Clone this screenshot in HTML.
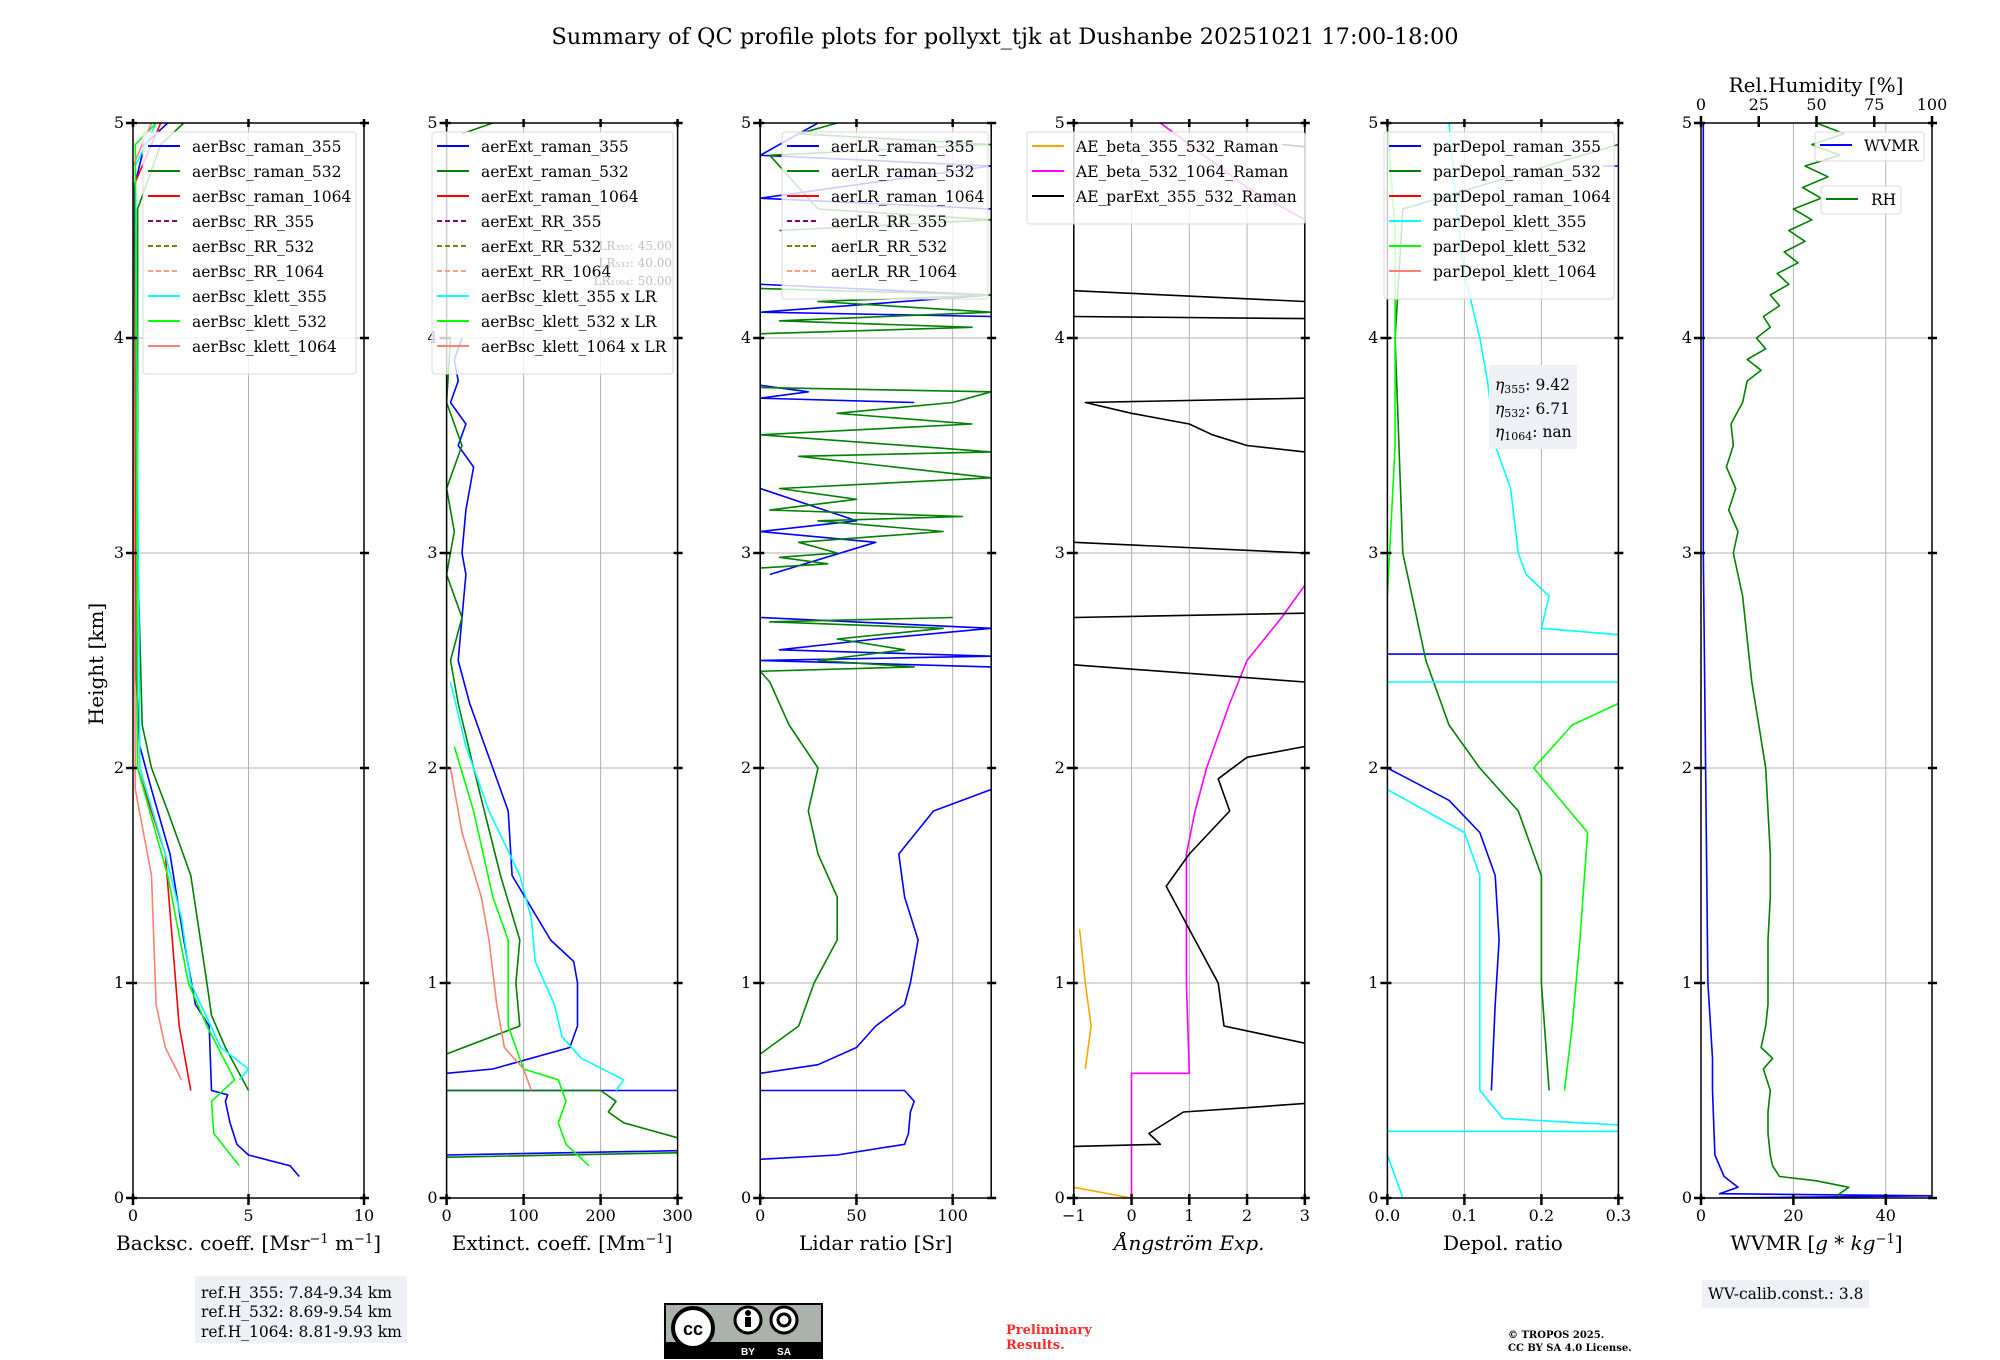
<!DOCTYPE html>
<html><head><meta charset="utf-8">
<style>
html,body{margin:0;padding:0;background:#fff;}
svg{display:block;font-family:"DejaVu Serif","Liberation Serif",serif;}
</style></head>
<body>
<svg id="fig" width="2000" height="1360" viewBox="0 0 2000 1360" xmlns="http://www.w3.org/2000/svg">
<rect x="0" y="0" width="2000" height="1360" fill="#fff"/>
<text x="1005" y="44" font-size="22.5" text-anchor="middle">Summary of QC profile plots for pollyxt_tjk at Dushanbe 20251021 17:00-18:00</text>
<text x="0" y="0" font-size="20" text-anchor="middle" transform="translate(103,664) rotate(-90)">Height [km]</text>
<g id="panels"></g>
<g>
<rect x="195" y="1276" width="212" height="67" fill="#eef0f5"/>
<text x="201" y="1298" font-size="15.5">ref.H_355: 7.84-9.34 km</text>
<text x="201" y="1317" font-size="15.5">ref.H_532: 8.69-9.54 km</text>
<text x="201" y="1337" font-size="15.5">ref.H_1064: 8.81-9.93 km</text>
</g>
<g>
<rect x="665" y="1304" width="157" height="54" fill="#aab2ab" stroke="#000" stroke-width="2"/>
<rect x="665" y="1342" width="157" height="16" fill="#000"/>
<circle cx="693" cy="1328" r="20" fill="#fff" stroke="#000" stroke-width="4"/>
<text x="693" y="1335" font-size="18" font-weight="bold" text-anchor="middle" font-family="Liberation Sans,sans-serif">cc</text>
<circle cx="748" cy="1320" r="13" fill="#fff" stroke="#000" stroke-width="3"/>
<circle cx="748" cy="1313" r="3" fill="#000"/><rect x="745" y="1317" width="6" height="10" fill="#000"/>
<circle cx="784" cy="1320" r="13" fill="#fff" stroke="#000" stroke-width="3"/>
<circle cx="784" cy="1320" r="6" fill="none" stroke="#000" stroke-width="3"/>
<text x="748" y="1355" font-size="10" fill="#fff" font-weight="bold" text-anchor="middle" font-family="Liberation Sans,sans-serif">BY</text>
<text x="784" y="1355" font-size="10" fill="#fff" font-weight="bold" text-anchor="middle" font-family="Liberation Sans,sans-serif">SA</text>
</g>
<text x="1006" y="1334" font-size="13" font-weight="bold" fill="#ff2a2a">Preliminary</text>
<text x="1006" y="1349" font-size="13" font-weight="bold" fill="#ff2a2a">Results.</text>
<text x="1508" y="1338" font-size="10" font-weight="bold">© TROPOS 2025.</text>
<text x="1508" y="1351" font-size="10" font-weight="bold">CC BY SA 4.0 License.</text>
<g>
<rect x="1702" y="1280" width="167" height="28" fill="#eef0f5"/>
<text x="1708" y="1299" font-size="15.5">WV-calib.const.: 3.8</text>
</g>
</svg>
<script>
// ---- data arrays: [height km, value] ; [null] = gap ----
const bscRaman355=[[0.1,7.2],[0.15,6.8],[0.2,5.0],[0.25,4.5],[0.35,4.2],[0.45,4.0],[0.48,4.1],[0.5,3.4],[0.8,3.3],[0.9,2.7],[1.2,2.2],[1.6,1.6],[1.9,0.8],[2.1,0.3],[2.5,0.1],[4.7,0.05],[4.9,0.5],[5,1.5]];
const bscRaman532=[[0.5,5.0],[0.7,4.0],[0.85,3.4],[1.0,3.2],[1.5,2.5],[1.8,1.5],[2.0,0.8],[2.2,0.4],[3,0.2],[4.6,0.2],[4.9,1.2],[5,2.2]];
const bscRaman1064=[[0.5,2.5],[0.8,2.0],[1.2,1.7],[1.6,1.4],[2.0,0.2],[4.7,0.0],[5,1.2]];
const bscKlett355=[[0.55,4.6],[0.6,5.0],[0.7,3.8],[1.0,2.5],[1.3,2.1],[1.6,1.4],[2.0,0.3],[4.8,0.1],[5,1.0]];
const bscKlett532=[[0.15,4.6],[0.3,3.5],[0.45,3.4],[0.55,4.4],[0.8,3.2],[1.0,2.4],[1.5,1.5],[2.0,0.2],[4.9,0.1],[5,1.0]];
const bscKlett1064=[[0.55,2.1],[0.7,1.4],[0.9,1.0],[1.2,0.9],[1.5,0.8],[1.9,0.1],[4.8,0.0],[5,0.8]];

const extRaman355=[[0.2,0],[0.22,300],[null],[0.5,300],[0.5,0],[null],[0.58,0],[0.6,60],[0.7,160],[0.8,170],[1.0,170],[1.1,165],[1.2,135],[1.5,85],[1.8,80],[2.0,60],[2.3,30],[2.5,15],[2.7,20],[2.9,25],[3.0,20],[3.2,25],[3.4,35],[3.5,15],[3.6,25],[3.7,5],[3.8,15],[3.9,10],[4.0,20]];
const extRaman532=[[0.19,0],[0.21,300],[null],[0.28,300],[0.35,230],[0.4,210],[0.45,220],[0.5,200],[0.5,0],[null],[0.67,0],[0.8,95],[1.0,90],[1.2,95],[1.5,70],[2.0,35],[2.3,15],[2.5,5],[2.7,20],[2.9,0],[3.1,10],[3.3,0],[3.5,20],[3.7,0],[4.0,5],[null],[4.95,20],[5,60]];
const extKlett355=[[0.5,220],[0.55,230],[0.65,175],[0.75,150],[0.9,140],[1.1,115],[1.3,110],[1.5,95],[1.8,55],[2.1,25],[2.4,5]];
const extKlett532=[[0.15,185],[0.25,155],[0.35,145],[0.45,155],[0.55,145],[0.6,100],[0.8,80],[1.0,80],[1.2,80],[1.4,60],[1.8,35],[2.1,10]];
const extKlett1064=[[0.5,110],[0.6,100],[0.7,75],[0.9,65],[1.2,55],[1.4,45],[1.7,20],[2.0,5]];

const lrRaman355=[[0.18,0],[0.2,40],[0.25,75],[0.3,77],[0.4,78],[0.45,80],[0.5,75],[0.5,0],[null],[0.58,0],[0.62,30],[0.7,50],[0.8,60],[0.9,75],[1.0,78],[1.2,82],[1.4,75],[1.6,72],[1.8,90],[1.9,120],[null],[2.47,120],[2.5,0],[2.52,120],[2.55,10],[2.6,60],[2.65,120],[2.7,0],[null],[2.9,5],[3.05,60],[3.1,0],[3.15,50],[3.3,0],[null],[3.7,80],[3.72,0],[3.75,25],[3.78,0],[null],[4.1,120],[4.12,0],[4.2,120],[4.25,0],[null],[4.6,120],[4.65,0],[4.8,120],[4.85,0],[5,30]];
const lrRaman532=[[0.67,0],[0.8,20],[1.0,28],[1.2,40],[1.4,40],[1.6,30],[1.8,25],[2.0,30],[2.2,15],[2.4,5],[2.45,0],[2.47,80],[2.5,30],[2.55,75],[2.6,40],[2.65,95],[2.68,5],[2.7,100],[null],[2.93,0],[2.95,35],[2.98,10],[3.0,40],[3.05,20],[3.1,95],[3.15,30],[3.17,105],[3.2,5],[3.25,50],[3.3,10],[3.35,120],[3.45,20],[3.47,120],[3.55,0],[3.6,110],[3.65,40],[3.7,100],[3.75,120],[3.77,0],[null],[4.02,0],[4.05,110],[4.08,10],[4.12,120],[4.17,30],[4.2,120],[4.23,0],[null],[4.5,10],[4.55,120],[4.6,30],[4.85,5],[4.9,120],[4.95,20],[5,40]];

const aeBeta355=[[0,0],[0.05,-1],[null],[0.6,-0.8],[0.8,-0.7],[1.0,-0.8],[1.25,-0.9]];
const aeBeta532=[[0,0],[0.58,0],[0.58,1],[1.0,0.95],[1.6,0.95],[1.8,1.1],[2.0,1.3],[2.3,1.7],[2.5,2.0],[2.7,2.6],[2.85,3],[null],[5,0.5],[4.7,2],[4.55,3]];
const aeParExt=[[0.24,-1],[0.25,0.5],[0.3,0.3],[0.4,0.9],[0.42,2],[0.44,3],[null],[0.72,3],[0.8,1.6],[1.0,1.5],[1.1,1.3],[1.3,0.9],[1.45,0.6],[1.6,1.0],[1.8,1.7],[1.95,1.5],[2.05,2.0],[2.1,3],[null],[2.48,-1],[2.4,3],[null],[2.7,-1],[2.72,3],[null],[3.05,-1],[3.0,3],[null],[3.72,3],[3.7,-0.8],[3.65,0],[3.6,1.0],[3.55,1.4],[3.5,2],[3.47,3],[null],[4.1,-1],[4.09,3],[null],[4.22,-1],[4.17,3],[null],[4.9,2.6],[4.89,3]];

const dpRaman355=[[0.5,0.135],[0.9,0.14],[1.2,0.145],[1.5,0.14],[1.7,0.12],[1.85,0.08],[2.0,0],[null],[2.53,0],[2.53,0.3],[null],[4.8,0.3],[4.8,0.28]];
const dpRaman532=[[0.5,0.21],[1.0,0.2],[1.5,0.2],[1.8,0.17],[2.0,0.12],[2.2,0.08],[2.5,0.05],[3,0.02],[4,0.01],[4.6,0.02],[4.9,0.3]];
const dpKlett355=[[0,0.02],[0.2,0.0],[null],[0.31,0],[0.31,0.3],[null],[0.34,0.3],[0.37,0.15],[0.5,0.12],[1.0,0.12],[1.5,0.12],[1.7,0.1],[1.9,0],[null],[2.4,0],[2.4,0.3],[null],[2.62,0.3],[2.65,0.2],[2.8,0.21],[2.9,0.18],[3.0,0.17],[3.3,0.16],[3.5,0.14],[3.8,0.13],[4.0,0.12],[4.3,0.1],[4.6,0.09],[5,0.08]];
const dpKlett532=[[0.5,0.23],[0.8,0.24],[1.2,0.25],[1.7,0.26],[2.0,0.19],[2.2,0.24],[2.3,0.3],[null],[2.8,0],[3.5,0.01],[4.5,0.01],[5,0.0]];

const wvmr=[[0,4],[0.01,50],[0.02,4],[0.05,8],[0.1,5],[0.2,3],[0.5,2.5],[0.65,2.5],[1,1.5],[2,1],[3,0.5],[5,0.5]];
const rhHeights=[0,0.02,0.05,0.08,0.1,0.15,0.2,0.3,0.4,0.5,0.6,0.65,0.7,0.8,0.9,1.0,1.2,1.4,1.6,1.8,2.0,2.2,2.4,2.6,2.8,3.0,3.1,3.2,3.3,3.4,3.5,3.6,3.7,3.8,3.85,3.9,3.95,4.0,4.05,4.1,4.15,4.2,4.25,4.3,4.35,4.4,4.45,4.5,4.55,4.6,4.65,4.7,4.75,4.8,4.85,4.9,4.95,5.0];
const rhValues=[60,60,64,50,34,31,30,29,29,30,27,31,26,28,29,29,29,30,30,29,28,25,22,20,18,14,16,12,15,11,14,13,18,20,26,20,28,24,30,27,34,30,38,33,42,36,45,38,48,40,52,44,55,45,60,48,62,50];

const heightTicks=[0,1,2,3,4,5];

// ---- layout ----
const Y0=1198, PXKM=215, W=231;
const yS=h=>Y0-PXKM*h;
const NS="http://www.w3.org/2000/svg";
const root=document.getElementById('panels');
function mk(tag,attrs,parent){const e=document.createElementNS(NS,tag);for(const k in attrs)e.setAttribute(k,attrs[k]);(parent||root).appendChild(e);return e;}

const rhAsWv=rhHeights.map((h,i)=>[h,rhValues[i]*0.5]);

const panels=[
 {L:133,xmin:0,xmax:10,ticks:[0,5,10],tl:['0','5','10'],label:'Backsc. coeff. [Msr<tspan dy="-7" font-size="13">−1</tspan><tspan dy="7"> m</tspan><tspan dy="-7" font-size="13">−1</tspan><tspan dy="7">]</tspan>',
  series:[['aerBsc_raman_355','#0000ff',null,bscRaman355],['aerBsc_raman_532','#008000',null,bscRaman532],['aerBsc_raman_1064','#ff0000',null,bscRaman1064],['aerBsc_RR_355','#800080','6,4',[]],['aerBsc_RR_532','#808000','6,4',[]],['aerBsc_RR_1064','#ffa07a','6,4',[]],['aerBsc_klett_355','#00ffff',null,bscKlett355],['aerBsc_klett_532','#00ff00',null,bscKlett532],['aerBsc_klett_1064','#fa8072',null,bscKlett1064]],
  leg:{x:143,y:132,w:213}},
 {L:446.6,xmin:0,xmax:300,ticks:[0,100,200,300],tl:['0','100','200','300'],label:'Extinct. coeff. [Mm<tspan dy="-7" font-size="13">−1</tspan><tspan dy="7">]</tspan>',
  series:[['aerExt_raman_355','#0000ff',null,extRaman355],['aerExt_raman_532','#008000',null,extRaman532],['aerExt_raman_1064','#ff0000',null,[]],['aerExt_RR_355','#800080','6,4',[]],['aerExt_RR_532','#808000','6,4',[]],['aerExt_RR_1064','#ffa07a','6,4',[]],['aerBsc_klett_355 x LR','#00ffff',null,extKlett355],['aerBsc_klett_532 x LR','#00ff00',null,extKlett532],['aerBsc_klett_1064 x LR','#fa8072',null,extKlett1064]],
  leg:{x:432,y:132,w:241}},
 {L:760.2,xmin:0,xmax:120,ticks:[0,50,100],tl:['0','50','100'],label:'Lidar ratio [Sr]',
  series:[['aerLR_raman_355','#0000ff',null,lrRaman355],['aerLR_raman_532','#008000',null,lrRaman532],['aerLR_raman_1064','#ff0000',null,[]],['aerLR_RR_355','#800080','6,4',[]],['aerLR_RR_532','#808000','6,4',[]],['aerLR_RR_1064','#ffa07a','6,4',[]]],
  leg:{x:782,y:132,w:206}},
 {L:1073.8,xmin:-1,xmax:3,ticks:[-1,0,1,2,3],tl:['−1','0','1','2','3'],label:'<tspan font-style="italic">Ångström Exp.</tspan>',
  series:[['AE_beta_355_532_Raman','#ffa500',null,aeBeta355],['AE_beta_532_1064_Raman','#ff00ff',null,aeBeta532],['AE_parExt_355_532_Raman','#000000',null,aeParExt]],
  leg:{x:1027,y:132,w:278}},
 {L:1387.4,xmin:0,xmax:0.3,ticks:[0,0.1,0.2,0.3],tl:['0.0','0.1','0.2','0.3'],label:'Depol. ratio',
  series:[['parDepol_raman_355','#0000ff',null,dpRaman355],['parDepol_raman_532','#008000',null,dpRaman532],['parDepol_raman_1064','#ff0000',null,[]],['parDepol_klett_355','#00ffff',null,dpKlett355],['parDepol_klett_532','#00ff00',null,dpKlett532],['parDepol_klett_1064','#fa8072',null,[]]],
  leg:{x:1384,y:132,w:230}},
 {L:1701,xmin:0,xmax:50,ticks:[0,20,40],tl:['0','20','40'],label:'WVMR [<tspan font-style="italic">g</tspan> * <tspan font-style="italic">kg</tspan><tspan dy="-7" font-size="13">−1</tspan><tspan dy="7">]</tspan>',
  series:[['WVMR','#0000ff',null,wvmr],['RH','#008000',null,rhAsWv]],leg:null}
];

panels.forEach((p,pi)=>{
  const g=mk('g',{});
  
  
  const xS=v=>p.L+(v-p.xmin)/(p.xmax-p.xmin)*W;
  p.ticks.forEach(t=>{const l=mk('line',{x1:xS(t),x2:xS(t),y1:yS(5),y2:Y0,stroke:'#b0b0b0','stroke-width':1},g);
    });
  heightTicks.forEach(h=>{const l=mk('line',{x1:p.L,x2:p.L+W,y1:yS(h),y2:yS(h),stroke:'#b0b0b0','stroke-width':1},g);
    });
  const cp=mk('clipPath',{id:'clip'+pi},g);mk('rect',{x:p.L,y:yS(5),width:W,height:PXKM*5},cp);
  const sg=mk('g',{'clip-path':'url(#clip'+pi+')'},g);
  p.series.forEach(s=>{
    const d=s[3]; if(!d.length) return;
    let path='',pen=false;
    d.forEach(pt=>{ if(pt[0]===null){pen=false;return;}
      path+=(pen?'L':'M')+xS(pt[1]).toFixed(1)+','+yS(pt[0]).toFixed(1); pen=true;});
    const e=mk('path',{d:path,fill:'none',stroke:s[1],'stroke-width':1.6,'stroke-linejoin':'round'},sg);
    if(s[2]) e.setAttribute('stroke-dasharray',s[2]);
    
    
  });
  const fr=mk('rect',{x:p.L,y:yS(5),width:W,height:PXKM*5,fill:'none',stroke:'#000','stroke-width':1.5},g);
  
  p.ticks.forEach((t,i)=>{
    mk('line',{x1:xS(t),x2:xS(t),y1:Y0-4,y2:Y0+7,stroke:'#000','stroke-width':2.5},g);
    if(pi<5) mk('line',{x1:xS(t),x2:xS(t),y1:yS(5)-4,y2:yS(5)+4,stroke:'#000','stroke-width':2.5},g);
    const tx=mk('text',{x:xS(t),y:Y0+23,'font-size':16,'text-anchor':'middle'},g);tx.textContent=p.tl[i];
    
  });
  heightTicks.forEach(h=>{
    mk('line',{x1:p.L-7,x2:p.L+4,y1:yS(h),y2:yS(h),stroke:'#000','stroke-width':2.5},g);
    mk('line',{x1:p.L+W-4,x2:p.L+W+5,y1:yS(h),y2:yS(h),stroke:'#000','stroke-width':2.5},g);
    const tx=mk('text',{x:p.L-9,y:yS(h)+5,'font-size':16,'text-anchor':'end'},g);tx.textContent=String(h);
    
  });
  const xl=mk('text',{x:p.L+W/2,y:Y0+52,'font-size':20,'text-anchor':'middle'},g);xl.innerHTML=p.label;
  
  if(p.leg){
    const lg=mk('g',{},g);
    
    const n=p.series.length;
    mk('rect',{x:p.leg.x,y:p.leg.y,width:p.leg.w,height:n*25+17,rx:3,fill:'#fff','fill-opacity':0.8,stroke:'#d8d8d8','stroke-width':1},lg);
    p.series.forEach((s,i)=>{
      const cy=p.leg.y+14+i*25;
      const ln=mk('line',{x1:p.leg.x+5,x2:p.leg.x+37,y1:cy,y2:cy,stroke:s[1],'stroke-width':2},lg);
      if(s[2]) ln.setAttribute('stroke-dasharray','5,3');
      
      const tx=mk('text',{x:p.leg.x+49,y:cy+6,'font-size':15.5},lg);tx.textContent=s[0];
      
    });
  }
});

[['LR₃₅₅: 45.00',250],['LR₅₃₂: 40.00',267],['LR₁₀₆₄: 50.00',285]].forEach(a=>{
  const t=mk('text',{x:672,y:a[1],'font-size':12,'text-anchor':'end',fill:'#c0c0c0'});t.textContent=a[0];
  
});
{
  const g=mk('g',{});
  mk('rect',{x:1489,y:365,width:88,height:84,fill:'#eef0f5'},g);
  [['355','9.42',390],['532','6.71',414],['1064','nan',437]].forEach(a=>{
    const t=mk('text',{x:1495,y:a[2],'font-size':15.5},g);
    t.innerHTML='<tspan font-style="italic">η</tspan><tspan font-size="11" dy="3">'+a[0]+'</tspan><tspan dy="-3">: '+a[1]+'</tspan>';
  });
}
{
  const g=mk('g',{});
  const rhTicks=[0,25,50,75,100];
  rhTicks.forEach(t=>{const x=1701+t/100*W;
    mk('line',{x1:x,x2:x,y1:yS(5)-7,y2:yS(5)+4,stroke:'#000','stroke-width':2.5},g);
    const tx=mk('text',{x:x,y:110,'font-size':16,'text-anchor':'middle'},g);tx.textContent=String(t);
    });
  const tt=mk('text',{x:1816,y:92,'font-size':20,'text-anchor':'middle'},g);tt.textContent='Rel.Humidity [%]';
  
  const l1=mk('g',{},g);
  mk('rect',{x:1815,y:132,width:109,height:29,rx:3,fill:'#fff','fill-opacity':0.8,stroke:'#d8d8d8'},l1);
  mk('line',{x1:1820,x2:1852,y1:145,y2:145,stroke:'#0000ff','stroke-width':2},l1);
  const t1=mk('text',{x:1864,y:151,'font-size':15.5},l1);t1.textContent='WVMR';
  const l2=mk('g',{},g);
  mk('rect',{x:1821,y:186,width:80,height:28,rx:3,fill:'#fff','fill-opacity':0.8,stroke:'#d8d8d8'},l2);
  mk('line',{x1:1826,x2:1858,y1:199,y2:199,stroke:'#008000','stroke-width':2},l2);
  const t2=mk('text',{x:1871,y:205,'font-size':15.5},l2);t2.textContent='RH';
}
</script>
</body></html>
